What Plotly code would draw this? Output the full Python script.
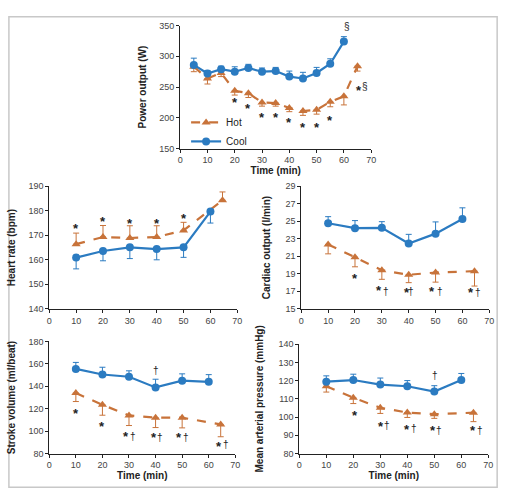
import plotly.graph_objects as go

HOT_C = '#C8733A'
COOL_C = '#2B7BC1'

# ---------------- data ----------------
power_time_cool = [5, 10, 15, 20, 25, 30, 35, 40, 45, 50, 55, 60]
power_cool = [286, 272, 279, 275, 281, 275, 276, 267, 264, 273, 288, 324]
power_cool_err = [11, 5, 5, 8, 6, 6, 6, 9, 10, 9, 8, 8]
power_time_hot = [5, 10, 15, 20, 25, 30, 35, 40, 45, 50, 55, 60, 65]
power_hot = [283, 264, 273, 244, 240, 225, 224, 216, 211, 213, 226, 235, 284]
power_hot_err = [8, 9, 6, 7, 7, 6, 5, 6, 7, 7, 8, 14, 8]

time_cool = [10, 20, 30, 40, 50, 60]
time_hot = [10, 20, 30, 40, 50, 64.5]

hr_hot = [166.4, 169.3, 168.9, 169.3, 172.0, 184.3]
hr_hot_err = [4.5, 4.7, 5.0, 4.6, 3.3, 3.4]
hr_cool = [160.9, 163.6, 165.1, 164.4, 165.1, 179.7]
hr_cool_err = [4.6, 4.0, 4.6, 4.4, 4.1, 4.7]

co_cool = [24.78, 24.22, 24.26, 22.47, 23.59, 25.27]
co_cool_err = [0.75, 0.86, 0.7, 1.04, 1.34, 1.27]
co_hot = [22.36, 20.9, 19.41, 18.89, 19.15, 19.3]
co_hot_err = [1.08, 1.1, 1.04, 0.9, 1.1, 1.7]

sv_cool = [155.5, 150.5, 148.5, 139, 145, 144]
sv_cool_err = [5.8, 6.5, 5.3, 7.3, 6.1, 6.4]
sv_hot = [134, 123.5, 114, 112, 112, 106]
sv_hot_err = [7.6, 9.3, 9, 8.8, 9.1, 11]

map_cool = [119.4, 120.3, 117.8, 116.9, 114, 120.3]
map_cool_err = [3.2, 3.2, 3.6, 3.1, 3.2, 3.6]
map_hot = [116.9, 110.6, 105.1, 102.5, 101.6, 102.4]
map_hot_err = [3.2, 3.2, 3.1, 2.7, 2.3, 4.9]

# significance markers: (axis suffix, x, y, text)
marks = [
    ('', 20, 232, '*'), ('', 25, 221, '*'), ('', 30, 207, '*'), ('', 35, 207, '*'),
    ('', 40, 199, '*'), ('', 45, 190, '*'), ('', 50, 190, '*'), ('', 55, 202, '*'),
    ('', 61.3, 349, '§'), ('', 65.5, 251, '*'), ('', 67.8, 251, '§'),
    ('2', 10, 174.5, '*'), ('2', 20, 177.3, '*'), ('2', 30, 176.4, '*'),
    ('2', 40, 176.3, '*'), ('2', 50, 178.5, '*'),
    ('3', 20, 18.9, '*'),
    ('3', 29, 17.55, '*'), ('3', 31.7, 17.0, '†'),
    ('3', 39.3, 17.3, '*'), ('3', 40.9, 16.95, '†'),
    ('3', 48.8, 17.43, '*'), ('3', 51.6, 17.0, '†'),
    ('3', 63.2, 17.3, '*'), ('3', 65.9, 16.9, '†'),
    ('4', 10, 119.4, '*'), ('4', 20, 107.7, '*'),
    ('4', 29, 98.9, '*'), ('4', 31.5, 95.5, '†'),
    ('4', 39.3, 97.8, '*'), ('4', 41.7, 94, '†'),
    ('4', 48.8, 97.8, '*'), ('4', 51.5, 94, '†'),
    ('4', 63.7, 90.2, '*'), ('4', 66.4, 88.2, '†'),
    ('4', 40.1, 153.8, '†'),
    ('5', 20.6, 103.3, '*'),
    ('5', 30.1, 97.2, '*'), ('5', 32.4, 95.4, '†'),
    ('5', 39.8, 95.4, '*'), ('5', 42.5, 93.6, '†'),
    ('5', 49.5, 94.8, '*'), ('5', 51.9, 92.7, '†'),
    ('5', 64.3, 94.8, '*'), ('5', 67.1, 92.7, '†'),
    ('5', 50.1, 122.6, '†'),
]

fig = go.Figure()


def add_series(xs, ys, err, axis, name, color, dash, symbol, up, show):
    e = dict(type='data', array=err if up else [0] * len(err),
             arrayminus=[0] * len(err) if up else err,
             symmetric=False, color=color, thickness=1, width=3)
    fig.add_trace(go.Scatter(
        x=xs, y=ys, mode='lines+markers', name=name, showlegend=show,
        line=dict(color=color, width=2.2, dash=dash),
        marker=dict(color=color, symbol=symbol, size=8),
        error_y=e, xaxis='x' + axis, yaxis='y' + axis, cliponaxis=False))


add_series(power_time_hot, power_hot, power_hot_err, '', 'Hot', HOT_C, 'dash', 'triangle-up', False, True)
add_series(power_time_cool, power_cool, power_cool_err, '', 'Cool', COOL_C, 'solid', 'circle', True, True)

add_series(time_hot, hr_hot, hr_hot_err, '2', 'Hot', HOT_C, 'dash', 'triangle-up', True, False)
add_series(time_cool, hr_cool, hr_cool_err, '2', 'Cool', COOL_C, 'solid', 'circle', False, False)

add_series(time_hot, co_hot, co_hot_err, '3', 'Hot', HOT_C, 'dash', 'triangle-up', False, False)
add_series(time_cool, co_cool, co_cool_err, '3', 'Cool', COOL_C, 'solid', 'circle', True, False)

add_series(time_hot, sv_hot, sv_hot_err, '4', 'Hot', HOT_C, 'dash', 'triangle-up', False, False)
add_series(time_cool, sv_cool, sv_cool_err, '4', 'Cool', COOL_C, 'solid', 'circle', True, False)

add_series(time_hot, map_hot, map_hot_err, '5', 'Hot', HOT_C, 'dash', 'triangle-up', False, False)
add_series(time_cool, map_cool, map_cool_err, '5', 'Cool', COOL_C, 'solid', 'circle', True, False)

W, H = 512, 501


def dom_x(a, b):
    return [a / W, b / W]


def dom_y(top, bot):
    return [1 - bot / H, 1 - top / H]


FONT = 'Liberation Sans, Arial, sans-serif'
tickfont = dict(family=FONT, size=9, color='#444')
titlefont = dict(family=FONT, size=10, color='#222', weight='bold')


def xax(domain, anchor, title=None):
    d = dict(domain=domain, anchor=anchor, range=[0, 70], dtick=10,
             showline=True, linecolor='#222', linewidth=1, ticks='outside',
             ticklen=3, tickcolor='#222', showgrid=False, zeroline=False,
             tickfont=tickfont, fixedrange=True)
    if title:
        d['title'] = dict(text=title, font=titlefont, standoff=1)
    return d


def yax(domain, anchor, rng, dtick, title, standoff=10):
    return dict(domain=domain, anchor=anchor, range=rng, dtick=dtick, tick0=rng[0],
                showline=True, linecolor='#222', linewidth=1, ticks='outside',
                ticklen=3, tickcolor='#222', showgrid=False, zeroline=False,
                tickfont=tickfont, title=dict(text=title, font=titlefont, standoff=standoff),
                fixedrange=True)


layout = dict(
    width=W, height=H, margin=dict(l=0, r=0, t=0, b=0),
    paper_bgcolor='white', plot_bgcolor='white',
    font=dict(family=FONT),
    xaxis=xax(dom_x(180, 374), 'y', 'Time (min)'),
    yaxis=yax(dom_y(21, 146.5), 'x', [150, 350], 50, 'Power output (W)'),
    xaxis2=xax(dom_x(47, 238), 'y2'),
    yaxis2=yax(dom_y(185, 310), 'x2', [140, 190], 10, 'Heart rate (bpm)'),
    xaxis3=xax(dom_x(303, 494), 'y3'),
    yaxis3=yax(dom_y(185, 310), 'x3', [15, 29], 2, 'Cardiac output (l/min)', 12),
    xaxis4=xax(dom_x(47, 236), 'y4', 'Time (min)'),
    yaxis4=yax(dom_y(343.3, 457.7), 'x4', [80, 180], 20, 'Stroke volume (ml/beat)'),
    xaxis5=xax(dom_x(301, 493), 'y5', 'Time (min)'),
    yaxis5=yax(dom_y(346, 457.7), 'x5', [80, 140], 10, 'Mean arterial pressure (mmHg)', 12),
    legend=dict(x=186 / W, y=1 - 105 / H, xanchor='left', yanchor='top',
                bgcolor='rgba(0,0,0,0)', font=dict(family=FONT, size=10, color='#222'),
                itemwidth=30, tracegroupgap=0),
    shapes=[dict(type='rect', xref='paper', yref='paper',
                 x0=6 / W, x1=502 / W, y0=1 - 492 / H, y1=1 - 12 / H,
                 line=dict(color='#C8C8C8', width=1.5))],
    annotations=[dict(x=x, y=y, xref='x' + ax, yref='y' + ax, text=t, showarrow=False,
                      font=dict(family=FONT, size=13 if t == '*' else 10, color='#222',
                                weight='bold' if t == '*' else 'normal'),
                      yshift=-4 if t == '*' else 0)
                 for ax, x, y, t in marks],
)
fig.update_layout(**layout)
fig.write_html('out.html', config={'displayModeBar': False},
               post_script="document.body.style.margin='0';")
